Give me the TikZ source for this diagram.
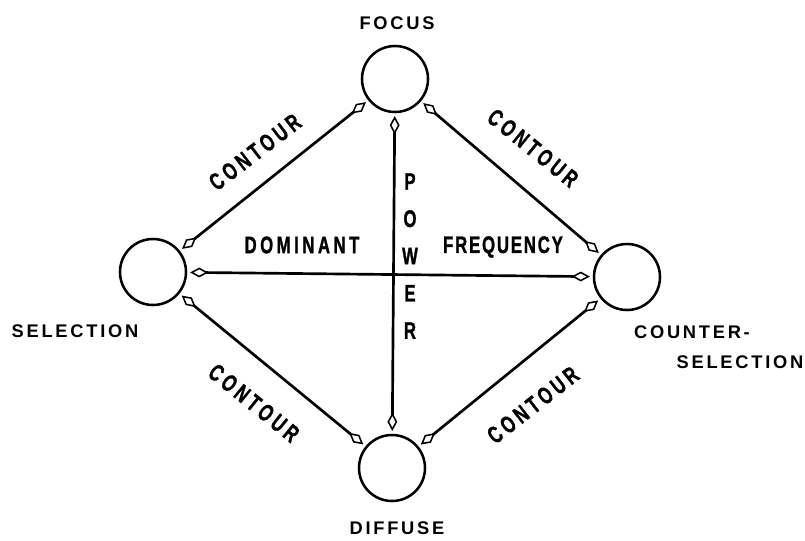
\documentclass[tikz,border=0pt]{standalone}
\usepackage{fontspec}
\setmainfont{Liberation Sans}
\usepackage{graphicx}
\usetikzlibrary{arrows.meta,positioning}

\newcommand{\slim}[2][24]{\scalebox{0.7}[1]{\addfontfeature{LetterSpace=#1,FakeBold=1.5}#2}}

\begin{document}
\begin{tikzpicture}[x=0.025cm, y=-0.025cm,
    >={Kite[open, length=13pt, width=7pt, inset=6.5pt, line width=1.1pt]},
    station/.style={circle, draw, line width=1.8pt, minimum size=1.65cm, inner sep=0pt},
    place/.style={inner sep=0pt, font=\fontsize{13}{15}\selectfont\bfseries\addfontfeature{LetterSpace=15}},
    tag/.style={inner sep=0pt, font=\fontsize{17}{20}\selectfont\bfseries},
    link/.style={<->, line width=1.9pt, shorten <=2pt, shorten >=2pt}]
    \useasboundingbox (0,0) rectangle (805,541);

    % the four states
    \node[station] (focus) at (395,79) {};
    \node[station] (select) at (153,272) {};
    \node[station] (counter) at (627,277) {};
    \node[station] (diffuse) at (392,468) {};

    \node[place] (focuslbl) at (397,23) {FOCUS};
    \node[place] (selectlbl) at (75,331) {SELECTION};
    \node[place] (counterlbl) at (692,332) {COUNTER-};
    \node[place] (counterlbl2) at (740,362) {SELECTION};
    \node[place] (diffuselbl) at (397,528) {DIFFUSE};

    % connectors
    \draw[link] (focus) -- (select);
    \draw[link] (focus) -- (counter);
    \draw[link] (select) -- (diffuse);
    \draw[link] (counter) -- (diffuse);
    \draw[link] (select) -- (counter);
    \draw[link] (focus) -- (diffuse);

    % labels on the connectors
    \node[tag, rotate=37.5] (contour1) at (255,152) {\slim{CONTOUR}};
    \node[tag, rotate=-39] (contour2) at (533,148) {\slim{CONTOUR}};
    \node[tag, rotate=-39] (contour3) at (254,403) {\slim{CONTOUR}};
    \node[tag, rotate=38] (contour4) at (533,405) {\slim{CONTOUR}};
    \node[tag] (dominant) at (302,245) {\slim[21]{DOMINANT}};
    \node[tag] (frequency) at (503,247) {\slim[11]{FREQUENCY}};
    \node[tag, align=center, font=\fontsize{17}{26.5}\selectfont\bfseries] (power) at (410,256)
        {\slim{P}\\\slim{O}\\\slim{W}\\\slim{E}\\\slim{R}};
\end{tikzpicture}
\end{document}
